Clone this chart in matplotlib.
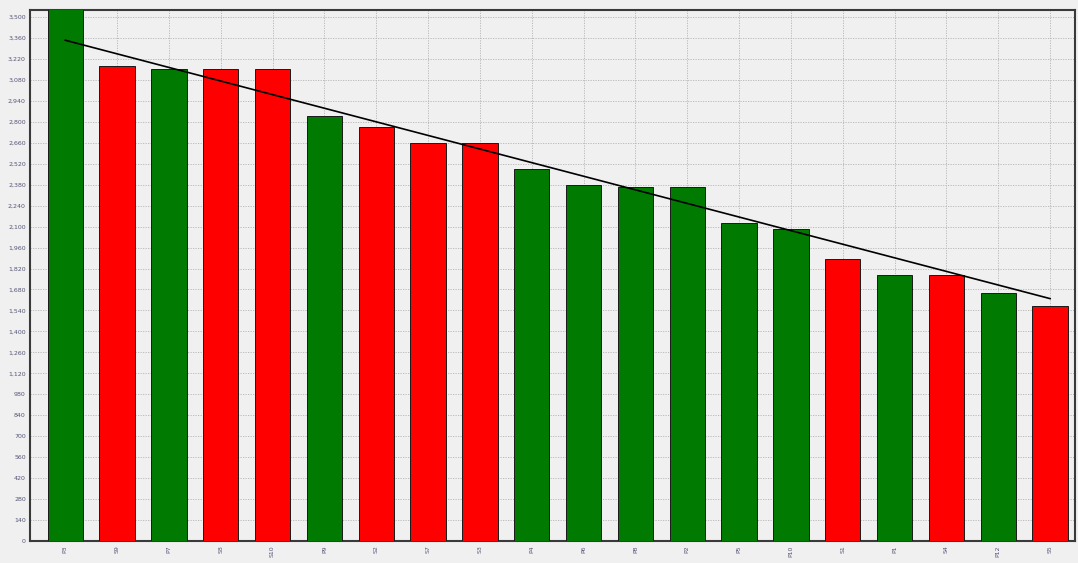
import numpy as np
import matplotlib.pyplot as plt
from matplotlib.ticker import FuncFormatter

labels = ["P3", "S9", "P7", "S8", "S10", "P9", "S2", "S7", "S3", "P4",
          "P6", "P8", "P2", "P5", "P10", "S1", "P1", "S4", "P12", "S5"]
values = [3600, 3172, 3152, 3152, 3152, 2837, 2763, 2656, 2656, 2482,
          2375, 2362, 2362, 2127, 2081, 1887, 1780, 1780, 1659, 1572]
groups = ["g", "r", "g", "r", "r", "g", "r", "r", "r", "g",
          "g", "g", "g", "g", "g", "r", "g", "r", "g", "r"]
# trend line values at first and last category
trend = [3345, 1619]
yticks = np.arange(0, 3501, 140)

colors = {"g": "#007a00", "r": "#ff0000"}

fig = plt.figure(figsize=(10.78, 5.63), dpi=100, facecolor="#f0f0f0")
ax = fig.add_axes([30 / 1078, 22 / 563, 1045 / 1078, 531 / 563])
ax.set_facecolor("#f0f0f0")

x = np.arange(len(values))
ax.bar(x, values, width=0.68, color=[colors[g] for g in groups],
       edgecolor="#1a1a1a", linewidth=0.7, zorder=3)

ax.plot([x[0], x[-1]], trend, color="black", linewidth=1.2, zorder=4)

ax.set_xlim(-0.68, len(values) - 0.52)
ax.set_ylim(0, 3547)
ax.set_yticks(yticks)
ax.yaxis.set_major_formatter(FuncFormatter(lambda v, p: f"{int(v):,}"))
ax.set_xticks(x)
ax.set_xticklabels(labels, rotation=90, fontsize=4.5, color="#555577")
ax.tick_params(axis="y", labelsize=4.5, labelcolor="#555577", length=0, pad=3)
ax.tick_params(axis="x", length=0, pad=3)

ax.grid(True, color="#b4b4b4", linestyle=(0, (1.5, 1.5)), linewidth=0.6, zorder=0)
for s in ax.spines.values():
    s.set_color("#3a3a3a")
    s.set_linewidth(1.5)

fig.savefig("out.png", dpi=100, facecolor=fig.get_facecolor())
